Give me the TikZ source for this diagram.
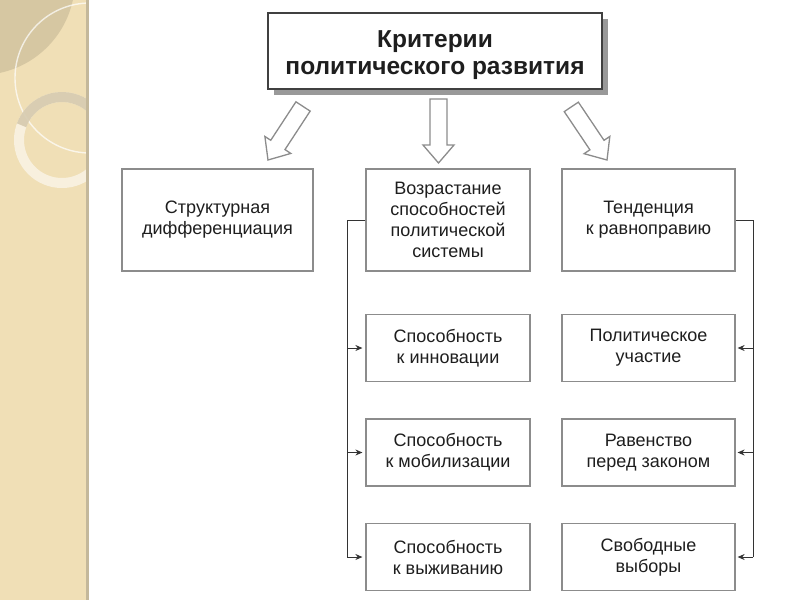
\documentclass[tikz,border=0pt]{standalone}
\usepackage{fontspec}
\setmainfont{Liberation Sans}
\usetikzlibrary{arrows.meta}
\definecolor{stripbg}{HTML}{F0DFB6}
\definecolor{stripedge}{HTML}{C4B89B}
\definecolor{txt}{HTML}{1E1E1E}
\definecolor{boxline}{HTML}{8C8C8C}
\begin{document}
\begin{tikzpicture}[x=1pt,y=-1pt,
  box/.style={draw=boxline, line width=1.2pt, fill=white, align=center, text=txt,
    font=\fontsize{18}{21}\selectfont, inner sep=0pt},
  lvl/.style={box, minimum width=191pt, minimum height=102pt},
  mbox/.style={box, minimum width=164pt, minimum height=102pt},
  sbox/.style={box, minimum width=164pt, minimum height=67pt},
  rbox/.style={box, minimum width=173pt, minimum height=102pt},
  rsbox/.style={box, minimum width=173pt, minimum height=67pt},
  conn/.style={draw=black!80, line width=1pt},
  tip/.style={conn, -{Stealth[length=7pt,width=6pt]}},
  blockarrow/.style={draw=boxline, line width=1.3pt, fill=white, line join=miter}
]
\useasboundingbox (0,0) rectangle (800,600);
\fill[white] (0,0) rectangle (800,600);
% decorative strip
\fill[stripbg] (0,0) rectangle (87,600);
\begin{scope}
  \clip (0,0) rectangle (87,600);
  \fill[black!18!stripbg, opacity=0.6] (-20,-20) circle (95);
  \draw[white, opacity=0.7, line width=1.4pt] (90,78) circle (75);
  \draw[white!70!stripbg, line width=10pt, opacity=0.8] (62,140) circle (43);
  \draw[black!18!stripbg, line width=10pt, opacity=0.6] (62,140) ++(200:43) arc (200:340:43);
\end{scope}
\fill[stripedge] (86,0) rectangle (89,600);
% title
\fill[black!40] (274,19) rectangle (608,95);
\node[box, draw=black!75, line width=2pt, minimum width=334pt, minimum height=76pt] (titlebox) at (435,51) {};
\node[align=center, text=txt, inner sep=0pt, font=\fontsize{24.5}{27}\selectfont\bfseries] (title) at (435,55)
  {Критерии\\политического развития};
% block arrows
\foreach \tx/\ty/\ang in {268/160/-123.2, 438.5/163/-90, 607/160/-56.1}{
  \draw[blockarrow, shift={(\tx,\ty)}, rotate=\ang]
    (-64,-8.5) -- (-18,-8.5) -- (-18,-15.5) -- (0,0) -- (-18,15.5) -- (-18,8.5) -- (-64,8.5) -- cycle;
}
% level 2
\node[lvl] (s) at (217.5,220) {Структурная\\дифференциация};
\node[mbox] (m0) at (448,220) {Возрастание\\способностей\\политической\\системы};
\node[rbox] (r0) at (648.5,220) {Тенденция\\к равноправию};
% level 3 middle
\node[sbox] (m1) at (448,348) {Способность\\к инновации};
\node[sbox] (m2) at (448,452.5) {Способность\\к мобилизации};
\node[sbox] (m3) at (448,557) {Способность\\к выживанию};
% level 3 right
\node[rsbox] (r1) at (648.5,348) {Политическое\\участие};
\node[rsbox] (r2) at (648.5,452.5) {Равенство\\перед законом};
\node[rsbox] (r3) at (648.5,557) {Свободные\\выборы};
% connectors
\coordinate (lt) at (347,220);
\coordinate (lb) at (347,557);
\coordinate (rt) at (753,220);
\coordinate (rb) at (753,557);
\draw[conn] (m0.west) -- (lt) -- (lb);
\draw[tip, shorten >=3pt] (lt |- m1.west) -- (m1.west);
\draw[tip, shorten >=3pt] (lt |- m2.west) -- (m2.west);
\draw[tip, shorten >=3pt] (lb) -- (m3.west);
\draw[conn] (r0.east) -- (rt) -- (rb);
\draw[tip, shorten >=2pt] (rt |- r1.east) -- (r1.east);
\draw[tip, shorten >=2pt] (rt |- r2.east) -- (r2.east);
\draw[tip, shorten >=2pt] (rb) -- (r3.east);
\end{tikzpicture}
\end{document}
